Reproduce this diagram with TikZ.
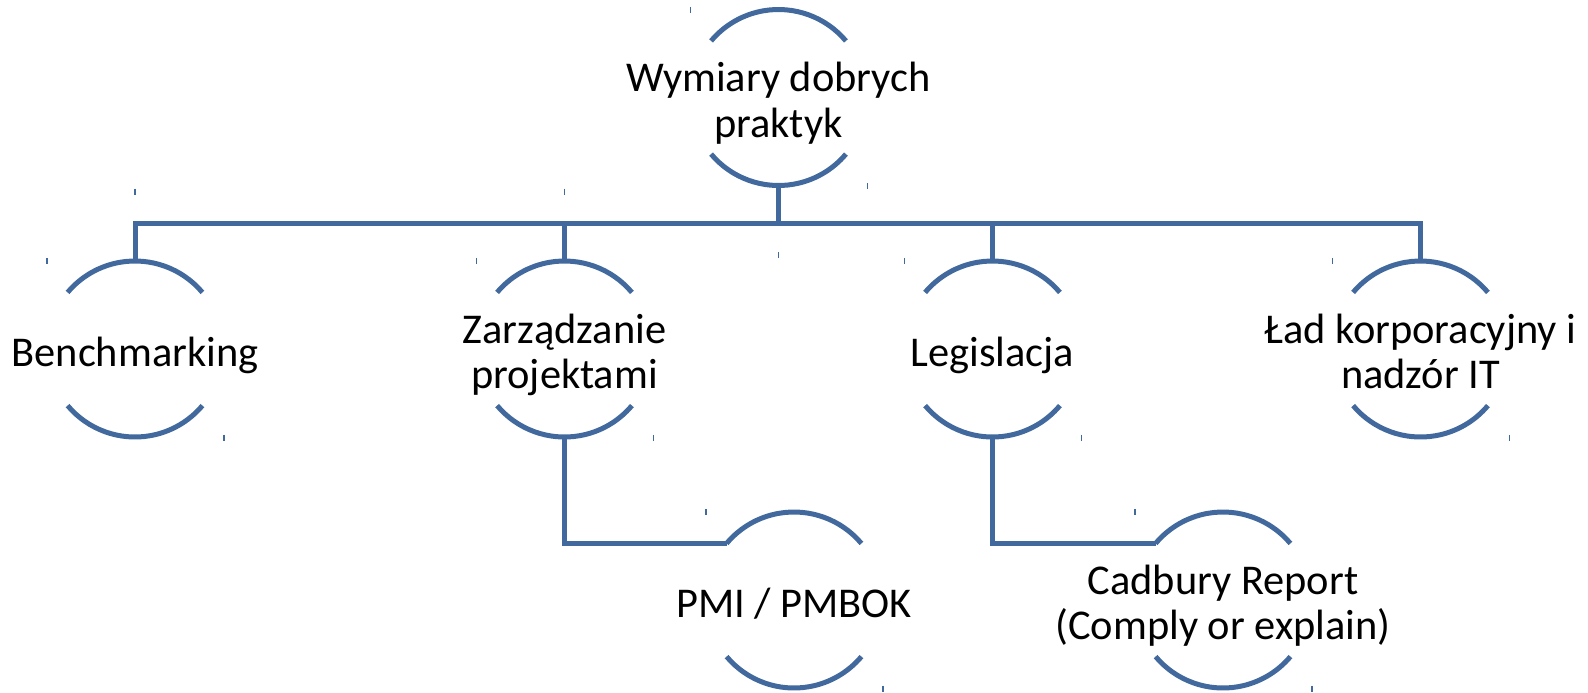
\documentclass[tikz,border=0pt]{standalone}
\usepackage{fontspec}
\setmainfont{Carlito}
\definecolor{linkblue}{RGB}{65,105,157}
\begin{document}
\begin{tikzpicture}[x=0.5pt,y=-0.5pt,
  ring/.style={circle,minimum size=88pt,inner sep=0pt,outer sep=0pt},
  arcline/.style={draw=linkblue,line width=2.5pt},
  link/.style={draw=linkblue,line width=2.5pt},
  lbl/.style={inner sep=0pt,outer sep=0pt,font=\fontsize{21.2}{22.75}\selectfont,text=black},
  tickmark/.style={draw=linkblue,line width=0.7pt}]
\useasboundingbox (0,0) rectangle (1588,692);

% ring positions
\node[ring] (top)   at (778.5,97.5) {};
\node[ring] (bench) at (135,349) {};
\node[ring] (zarz)  at (564.5,349) {};
\node[ring] (legis) at (992.5,349) {};
\node[ring] (lad)   at (1420.5,349) {};
\node[ring] (pmi)   at (794,600) {};
\node[ring] (cad)   at (1223,600) {};

% upper and lower arcs of every ring
\foreach \n in {top,bench,zarz,legis,lad,pmi,cad} {
  \draw[arcline] (\n.40) arc[start angle=40,end angle=140,radius=44pt];
  \draw[arcline] (\n.220) arc[start angle=220,end angle=320,radius=44pt];
  \draw[tickmark] ([shift={(-88,-91)}]\n.center) -- ++(0,6);
  \draw[tickmark] ([shift={(89,85.5)}]\n.center) -- ++(0,6);
}

% labels
\node[lbl] (top-t)   at ([yshift=-3.95pt]top.center)   {\begin{tabular}{@{}c@{}}Wymiary dobrych\\praktyk\end{tabular}};
\node[lbl] (bench-t) at ([yshift=-3.95pt]bench.center) {\begin{tabular}{@{}c@{}}Benchmarking\end{tabular}};
\node[lbl] (zarz-t)  at ([yshift=-3.95pt]zarz.center)  {\begin{tabular}{@{}c@{}}Zarządzanie\\projektami\end{tabular}};
\node[lbl] (legis-t) at ([yshift=-3.95pt]legis.center) {\begin{tabular}{@{}c@{}}Legislacja\end{tabular}};
\node[lbl] (lad-t)   at ([yshift=-3.95pt]lad.center)   {\begin{tabular}{@{}c@{}}Ład korporacyjny i\\nadzór IT\end{tabular}};
\node[lbl] (pmi-t)   at ([yshift=-3.95pt]pmi.center)   {\begin{tabular}{@{}c@{}}PMI / PMBOK\end{tabular}};
\node[lbl] (cad-t)   at ([yshift=-3.95pt]cad.center)   {\begin{tabular}{@{}c@{}}Cadbury Report\\(Comply or explain)\end{tabular}};

% connectors
\coordinate (bus) at (778.5,223);
\draw[link] (top.south) -- (bus);
\draw[link] (bench.north) |- (bus) -| (lad.north);
\draw[link] (zarz.north) -- (zarz.north |- bus);
\draw[link] (legis.north) -- (legis.north |- bus);
\draw[link] (zarz.south) |- (pmi.140);
\draw[link] (legis.south) |- (cad.140);

% small marks around the connectors
\draw[tickmark] ([yshift=-1.5pt]bench.center |- top.south) -- ++(0,6);
\draw[tickmark] ([yshift=-1.5pt]zarz.center |- top.south) -- ++(0,6);
\draw[tickmark] ([yshift=1.5pt]top.center |- bench.north) -- ++(0,-6);
\end{tikzpicture}
\end{document}
